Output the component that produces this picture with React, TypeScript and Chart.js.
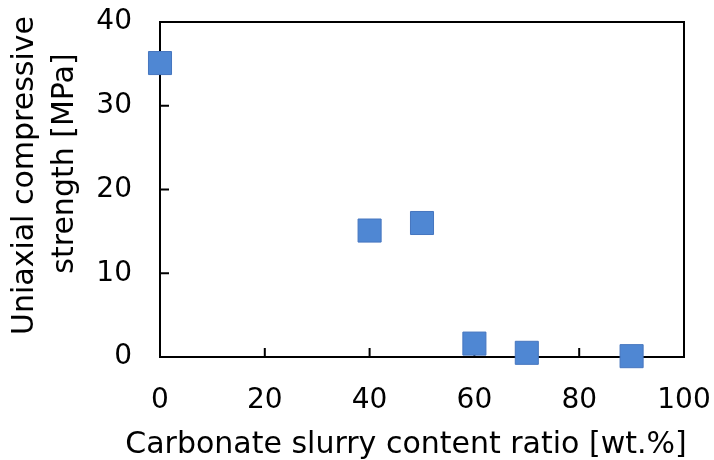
import React, { useEffect, useRef } from "react";
import { Chart, registerables } from "chart.js";

Chart.register(...registerables);

const slurryRatio = [0, 40, 50, 60, 70, 90];
const strength = [35.1, 15.1, 16.0, 1.6, 0.5, 0.1];
const xTicks = [0, 20, 40, 60, 80, 100];
const yTicks = [0, 10, 20, 30, 40];
const xTitle = "Carbonate slurry content ratio [wt.%]";
const yTitle = ["Uniaxial compressive", "strength [MPa]"];

const FONT = "'DejaVu Sans', sans-serif";

const frame = {
  id: "frame",
  beforeDatasetsDraw(chart: any) {
    const { ctx, chartArea: a, scales } = chart;
    ctx.save();
    ctx.strokeStyle = "#000";
    ctx.lineWidth = 2;
    ctx.strokeRect(a.left, a.top, a.right - a.left, a.bottom - a.top);
    ctx.beginPath();
    for (const v of xTicks) {
      const px = scales.x.getPixelForValue(v);
      ctx.moveTo(px, a.bottom);
      ctx.lineTo(px, a.bottom - 9);
    }
    for (const v of yTicks) {
      const py = scales.y.getPixelForValue(v);
      ctx.moveTo(a.left, py);
      ctx.lineTo(a.left + 9, py);
    }
    ctx.stroke();
    ctx.restore();
  },
  afterDraw(chart: any) {
    const { ctx, chartArea: a } = chart;
    ctx.save();
    ctx.fillStyle = "#000";
    ctx.font = `30px ${FONT}`;
    ctx.textAlign = "center";
    ctx.textBaseline = "alphabetic";
    ctx.fillText(xTitle, a.left + 246, a.bottom + 96);
    const centers = [a.top + 153.5, a.top + 141.5];
    const baselines = [a.left - 127, a.left - 87];
    yTitle.forEach((line, i) => {
      ctx.save();
      ctx.translate(baselines[i], centers[i]);
      ctx.rotate(-Math.PI / 2);
      ctx.fillText(line, 0, 0);
      ctx.restore();
    });
    ctx.restore();
  },
};

export default function App() {
  const ref = useRef<HTMLCanvasElement>(null);
  useEffect(() => {
    const chart = new Chart(ref.current!, {
      type: "scatter",
      data: {
        datasets: [
          {
            data: slurryRatio.map((x, i) => ({ x, y: strength[i] })),
            pointStyle: "rect",
            pointRadius: 16.3,
            pointHoverRadius: 16.3,
            backgroundColor: "#4F87D3",
            borderColor: "#4676BF",
            borderWidth: 1,
            clip: false as any,
          },
        ],
      },
      options: {
        animation: false,
        responsive: false,
        devicePixelRatio: 1,
        layout: { padding: { top: 22, right: 30, left: 0, bottom: 0 } },
        plugins: { legend: { display: false }, tooltip: { enabled: false } },
        scales: {
          x: {
            type: "linear",
            min: 0,
            max: 100,
            afterBuildTicks: (s: any) => {
              s.ticks = xTicks.map((v) => ({ value: v }));
            },
            afterFit: (s: any) => {
              s.height = 103;
              s.paddingLeft = 0;
              s.paddingRight = 0;
            },
            grid: { display: false },
            border: { display: false },
            ticks: { color: "#000", font: { family: FONT, size: 28 }, padding: 19 },
            title: { display: false },
          },
          y: {
            type: "linear",
            min: 0,
            max: 40,
            afterBuildTicks: (s: any) => {
              s.ticks = yTicks.map((v) => ({ value: v }));
            },
            afterFit: (s: any) => {
              s.width = 160;
              s.paddingTop = 0;
              s.paddingBottom = 0;
            },
            grid: { display: false },
            border: { display: false },
            ticks: { color: "#000", font: { family: FONT, size: 28 }, padding: 20 },
            title: { display: false },
          },
        },
      },
      plugins: [frame],
    });
    return () => chart.destroy();
  }, []);
  return (
    <div style={{ position: "fixed", left: 0, top: 0, width: 714, height: 460, background: "#fff" }}>
      <canvas ref={ref} width={714} height={460} style={{ width: 714, height: 460 }} />
    </div>
  );
}
